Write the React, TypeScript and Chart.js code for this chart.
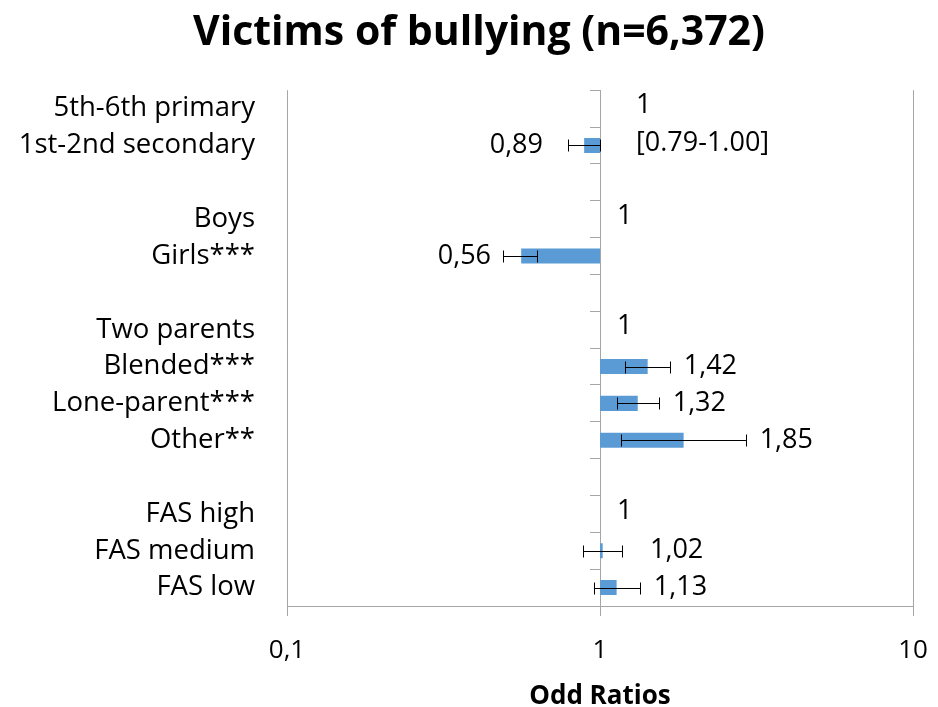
import React, { useEffect, useRef } from "react";
import { Chart, registerables } from "chart.js";

Chart.register(...registerables);

const chartTitle = "Victims of bullying (n=6,372)";

const categories: string[] = [
  "5th-6th primary",
  "1st-2nd secondary",
  "",
  "Boys",
  "Girls***",
  "",
  "Two parents",
  "Blended***",
  "Lone-parent***",
  "Other**",
  "",
  "FAS high",
  "FAS medium",
  "FAS low",
];

const oddsRatios: (number | null)[] = [1, 0.89, null, 1, 0.56, null, 1, 1.42, 1.32, 1.85, null, 1, 1.02, 1.13];
const ciLow: (number | null)[] = [null, 0.79, null, null, 0.49, null, null, 1.2, 1.13, 1.17, null, null, 0.88, 0.96];
const ciHigh: (number | null)[] = [null, 1.0, null, null, 0.63, null, null, 1.67, 1.54, 2.92, null, null, 1.18, 1.34];
const ciTexts: string[] = ["", "[0.79-1.00]", "", "", "", "", "", "", "", "", "", "", "", ""];

const xTicks: number[] = [0.1, 1, 10];
const referenceValue = 1;

const FONT = "'Open Sans', 'DejaVu Sans', sans-serif";
const GRAY = "#a6a6a6";
const BAR = "#5b9bd5";
const TITLE_SIZE = 41;
const TITLE_PAD_TOP = 9;

const fmt = (v: number) => String(v).replace(".", ",");

const overlayPlugin = {
  id: "overlay",
  afterDatasetsDraw(chart: any) {
    const { ctx } = chart;
    const xs = chart.scales.x;
    const ys = chart.scales.y;
    const x1 = xs.getPixelForValue(referenceValue);
    ctx.save();
    // error bars
    ctx.strokeStyle = "#000";
    ctx.lineWidth = 1;
    for (let i = 0; i < categories.length; i++) {
      const lo = ciLow[i];
      const hi = ciHigh[i];
      if (lo == null || hi == null) continue;
      const y = Math.round(ys.getPixelForValue(i)) + 0.5;
      const a = Math.round(xs.getPixelForValue(lo)) + 0.5;
      const b = Math.round(xs.getPixelForValue(hi)) + 0.5;
      ctx.beginPath();
      ctx.moveTo(a, y);
      ctx.lineTo(b, y);
      ctx.moveTo(a, y - 6);
      ctx.lineTo(a, y + 6);
      ctx.moveTo(b, y - 6);
      ctx.lineTo(b, y + 6);
      ctx.stroke();
    }
    // value labels
    ctx.fillStyle = "#000";
    ctx.font = `27px ${FONT}`;
    ctx.textBaseline = "middle";
    for (let i = 0; i < categories.length; i++) {
      const v = oddsRatios[i];
      if (v == null) continue;
      const y = ys.getPixelForValue(i);
      if (v === referenceValue && ciLow[i] == null) {
        const hasCiNext = ciTexts[i + 1] && ciTexts[i + 1].length > 0;
        ctx.textAlign = "left";
        ctx.fillText(fmt(v), x1 + (hasCiNext ? 36 : 17), y - 3);
      } else if (v < referenceValue) {
        ctx.textAlign = "right";
        const lx = Math.min(xs.getPixelForValue(ciLow[i] as number) - 12, x1 - 57);
        ctx.fillText(fmt(v), lx, y);
        if (ciTexts[i]) {
          ctx.textAlign = "left";
          ctx.fillText(ciTexts[i], x1 + 36, y - 2);
        }
      } else {
        ctx.textAlign = "left";
        const lx = Math.max(xs.getPixelForValue(ciHigh[i] as number) + 14, x1 + 50);
        ctx.fillText(fmt(v), lx, y);
      }
    }
    // title, centred on the page
    ctx.font = `bold ${TITLE_SIZE}px ${FONT}`;
    ctx.textAlign = "center";
    ctx.textBaseline = "middle";
    ctx.fillText(chartTitle, chart.width / 2 + 10, TITLE_PAD_TOP + (TITLE_SIZE * 1.2) / 2);
    ctx.restore();
  },
};

export default function App() {
  const ref = useRef<HTMLCanvasElement | null>(null);
  useEffect(() => {
    document.body.style.margin = "0";
    if (!ref.current) return;
    const barData = oddsRatios.map((v) =>
      v == null || v === referenceValue ? null : v < referenceValue ? [v, referenceValue] : [referenceValue, v]
    );
    const chart = new Chart(ref.current, {
      type: "bar",
      data: {
        labels: categories,
        datasets: [
          {
            data: barData as any,
            backgroundColor: BAR,
            borderWidth: 0,
            categoryPercentage: 0.8,
            barPercentage: 0.51,
          },
        ],
      },
      options: {
        indexAxis: "y",
        animation: false,
        responsive: false,
        layout: { padding: { left: 0, right: 25, top: 0, bottom: 0 } },
        plugins: {
          legend: { display: false },
          tooltip: { enabled: false },
          title: {
            display: true,
            text: chartTitle,
            color: "rgba(0,0,0,0)",
            font: { family: FONT, size: TITLE_SIZE, weight: "bold" },
            padding: { top: TITLE_PAD_TOP, bottom: 32 },
          },
        },
        scales: {
          x: {
            type: "logarithmic",
            min: 0.1,
            max: 10,
            afterBuildTicks: (scale: any) => {
              scale.ticks = xTicks.map((v) => ({ value: v }));
            },
            afterFit: (scale: any) => {
              scale.height = 101;
              scale.paddingLeft = 0;
              scale.paddingRight = 0;
            },
            ticks: {
              color: "#000",
              font: { family: FONT, size: 26 },
              padding: 19,
              autoSkip: false,
              maxRotation: 0,
              callback: (v: any) => fmt(Number(v)),
            },
            grid: { color: GRAY, lineWidth: 1, tickLength: 10, drawTicks: true },
            border: { display: true, color: GRAY, width: 1 },
            title: {
              display: true,
              text: "Odd Ratios",
              color: "#000",
              font: { family: FONT, size: 26, weight: "bold" },
              padding: { top: 0, bottom: -5 },
            },
          },
          y: {
            type: "category",
            position: "left",
            afterFit: (scale: any) => {
              scale.width = 287;
            },
            ticks: {
              color: "#000",
              font: { family: FONT, size: 27.5 },
              padding: 32,
              autoSkip: false,
            },
            grid: { display: false, drawTicks: false },
            border: { display: false },
          },
          y2: {
            type: "category",
            axis: "y",
            labels: categories,
            position: { x: referenceValue } as any,
            offset: true,
            afterFit: (scale: any) => {
              scale.width = 0;
              scale.paddingLeft = 0;
              scale.paddingRight = 0;
            },
            ticks: { display: false },
            grid: {
              offset: true,
              drawOnChartArea: false,
              drawTicks: true,
              tickLength: 10,
              color: GRAY,
            },
            border: { display: true, color: GRAY, width: 1 },
          },
        },
      } as any,
      plugins: [overlayPlugin],
    });
    return () => chart.destroy();
  }, []);
  return <canvas ref={ref} width={938} height={707} style={{ display: "block" }} />;
}
